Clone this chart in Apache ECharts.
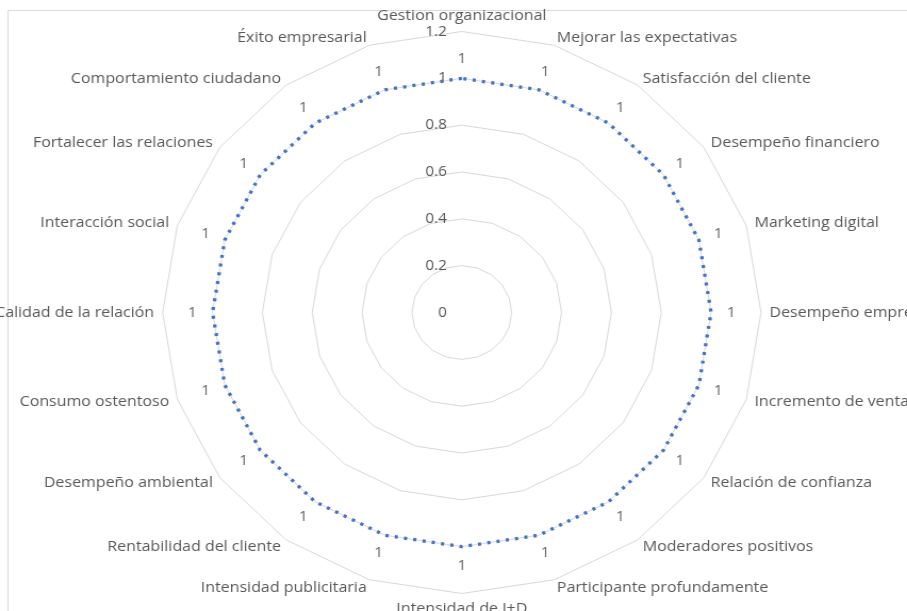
<!DOCTYPE html>
<html><head><meta charset="utf-8">
<script src="https://cdn.jsdelivr.net/npm/echarts@6/dist/echarts.min.js"></script>
<style>
html,body{margin:0;padding:0;background:#fff;overflow:hidden}
#wrap{width:907px;height:611px;overflow:hidden;position:relative;background:#fff}
#chart{width:852px;height:611px;transform:scaleX(1.0646);transform-origin:0 0}
</style></head><body>
<div id="wrap"><div id="chart"></div></div>
<script>
// Categories, clockwise from the top
const categories = [
  'Gestion organizacional', 'Mejorar las expectativas', 'Satisfacción del cliente',
  'Desempeño financiero', 'Marketing digital', 'Desempeño empresarial',
  'Incremento de ventas', 'Relación de confianza', 'Moderadores positivos',
  'Participante profundamente', 'Intensidad de I+D', 'Intensidad publicitaria',
  'Rentabilidad del cliente', 'Desempeño ambiental', 'Consumo ostentoso',
  'Calidad de la relación', 'Interacción social', 'Fortalecer las relaciones',
  'Comportamiento ciudadano', 'Éxito empresarial'
];
const values = [1, 1, 1, 1, 1, 1, 1, 1, 1, 1, 1, 1, 1, 1, 1, 1, 1, 1, 1, 1];
const tickLabels = [0, 0.2, 0.4, 0.6, 0.8, 1, 1.2];

const FONT = 'Open Sans';
const CX = 433.8, CY = 312.5, R = 281;
const n = categories.length;
const axMin = tickLabels[0], axMax = tickLabels[tickLabels.length - 1];
const step = +(tickLabels[1] - tickLabels[0]).toFixed(6);

// ECharts radar goes counter-clockwise; reorder so categories run clockwise
const order = [0];
for (let i = n - 1; i >= 1; i--) order.push(i);

const LD = 19;
const chart = echarts.init(document.getElementById('chart'), null, {renderer: 'canvas'});
chart.setOption({
  animation: false,
  backgroundColor: '#ffffff',
  graphic: [
    {type: 'line', shape: {x1: 7.5, y1: 10.5, x2: 860, y2: 10.5}, style: {stroke: '#d9d9d9', lineWidth: 1}, silent: true},
    {type: 'line', shape: {x1: 7.5, y1: 10.5, x2: 7.5, y2: 620}, style: {stroke: '#d9d9d9', lineWidth: 1}, silent: true}
  ],
  radar: {
    center: [CX, CY],
    radius: R,
    startAngle: 90,
    shape: 'polygon',
    splitNumber: tickLabels.length - 1,
    nameGap: 8,
    indicator: order.map(i => ({name: categories[i], min: axMin, max: axMax})),
    axisName: {color: '#595959', fontSize: 15, fontFamily: FONT},
    axisLine: {show: false},
    axisTick: {show: false},
    axisLabel: {show: false},
    splitArea: {show: false},
    splitLine: {lineStyle: {color: '#d9d9d9', width: 1}}
  },
  polar: {center: [CX, CY], radius: R},
  angleAxis: {type: 'value', min: 0, max: n, startAngle: 90, clockwise: true, show: false},
  radiusAxis: {
    type: 'value', min: axMin, max: axMax, interval: step,
    axisLine: {show: false}, axisTick: {show: false}, splitLine: {show: false},
    axisLabel: {color: '#595959', fontSize: 14.5, fontFamily: FONT, margin: 14}
  },
  series: [
    {
      type: 'radar',
      silent: true,
      symbol: 'none',
      data: [{value: order.map(i => values[i])}],
      lineStyle: {color: '#4472C4', width: 3.3, type: [3, 5.8]}
    },
    {
      type: 'scatter',
      coordinateSystem: 'polar',
      silent: true,
      symbolSize: 0.1,
      itemStyle: {color: 'rgba(0,0,0,0)'},
      label: {show: true, position: 'inside', color: '#404040', fontSize: 14.5, fontFamily: FONT,
              formatter: p => String(p.value[0])},
      data: values.map((v, i) => {
        const a = (90 - i * 360 / n) * Math.PI / 180;
        return {value: [v, i], label: {offset: [LD * Math.cos(a), -LD * Math.sin(a)]}};
      })
    }
  ]
});
</script>
</body></html>
